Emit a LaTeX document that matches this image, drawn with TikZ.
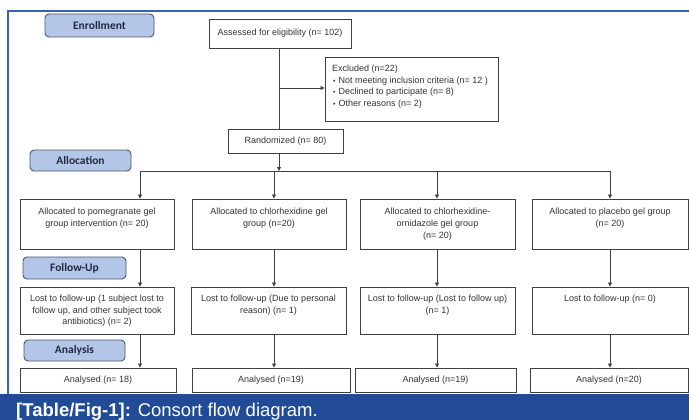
\documentclass[tikz,border=0pt]{standalone}
\usepackage{fontspec}
\setmainfont{Liberation Sans}
\newfontfamily\lblfont{Carlito}
\usetikzlibrary{arrows.meta,fit,calc}
\definecolor{frameblue}{HTML}{3A62B2}
\definecolor{bandblue}{HTML}{224B96}
\definecolor{lblfill}{HTML}{B4C6E7}
\definecolor{lbledge}{HTML}{4A5670}
\definecolor{lbltext}{HTML}{1F2A40}
\definecolor{boxedge}{HTML}{404040}
\definecolor{boxtext}{HTML}{333333}
\tikzset{
  box/.style={draw=boxedge, line width=0.9pt, inner sep=0pt, fill=white},
  lbl/.style={draw=lbledge, line width=0.9pt, fill=lblfill, rounded corners=4pt, inner sep=0pt},
  lbltxt/.style={font=\lblfont\bfseries\fontsize{11.5}{13}\selectfont, text=lbltext, inner sep=0pt},
  txt/.style={font=\fontsize{9}{11.8}\selectfont, text=boxtext, align=center, inner sep=0pt},
  conn/.style={draw=boxedge, line width=0.8pt},
  arr/.style={conn, -{Triangle[length=4pt,width=4pt]}},
}
\newcommand\mkbox[6]{\node[#6, fit={(#2,#3)(#4,#5)}] (#1) {};}
\begin{document}
\begin{tikzpicture}[x=1pt,y=-1pt]
\useasboundingbox (0,0) rectangle (689,420);
\fill[white] (0,0) rectangle (689,420);
% frame
\fill[bandblue] (0,394) rectangle (689,420);
\draw[frameblue, line width=1.2pt] (8,394) -- (8,11) -- (689,11);
\node[anchor=base west, inner sep=0pt, text=white, font=\fontsize{18.5}{20}\selectfont] (cap) at (16,416.5)
  {\textbf{[Table/Fig-1]:} Consort flow diagram.};

% stage labels
\mkbox{enr}{45}{14}{154}{37}{lbl}
\node[lbltxt] (enrt) at (enr.center) {Enrollment};
\mkbox{alc}{30}{150}{131}{171}{lbl}
\node[lbltxt] (alct) at (alc.center) {Allocation};
\mkbox{fol}{23}{257}{126}{279}{lbl}
\node[lbltxt] (folt) at (fol.center) {Follow-Up};
\mkbox{ana}{24}{340}{125}{361}{lbl}
\node[lbltxt] (anat) at (ana.center) {Analysis};

% top boxes
\mkbox{ass}{209}{19}{351}{48}{box}
\node[txt] (asst) at (ass.center) {Assessed for eligibility (n= 102)};
\mkbox{exc}{325}{57}{498}{121}{box}
\node[txt, align=left, anchor=north west] (exct) at (332,64.5) {Excluded (n=22)\\
\hspace{1pt}{\scriptsize\textbullet}\hspace{3pt}Not meeting inclusion criteria (n= 12 )\\
\hspace{1pt}{\scriptsize\textbullet}\hspace{3pt}Declined to participate (n= 8)\\
\hspace{1pt}{\scriptsize\textbullet}\hspace{3pt}Other reasons (n= 2)};
\mkbox{ran}{228}{129}{343}{153}{box}
\node[txt] (rant) at (ran.center) {Randomized (n= 80)};

% allocation row
\mkbox{a1}{20}{199}{174}{249}{box}
\mkbox{a2}{192}{199}{346}{249}{box}
\mkbox{a3}{360}{199}{515}{249}{box}
\mkbox{a4}{532}{199}{688}{249}{box}
\node[txt, anchor=north] (a1t) at ($(a1.north)+(0,9.5)$) {Allocated to pomegranate gel\\group intervention (n= 20)};
\node[txt, anchor=north] (a2t) at ($(a2.north)+(0,9.5)$) {Allocated to chlorhexidine gel\\group (n=20)};
\node[txt, anchor=north] (a3t) at ($(a3.north)+(0,9.5)$) {Allocated to chlorhexidine-\\ornidazole gel group\\(n= 20)};
\node[txt, anchor=north] (a4t) at ($(a4.north)+(0,9.5)$) {Allocated to placebo gel group\\(n= 20)};

% lost row
\mkbox{l1}{20}{287}{174}{334}{box}
\mkbox{l2}{191}{287}{346}{334}{box}
\mkbox{l3}{360}{287}{515}{334}{box}
\mkbox{l4}{532}{287}{688}{334}{box}
\node[txt, anchor=north] (l1t) at ($(l1.north)+(0,8)$) {Lost to follow-up (1 subject lost to\\follow up, and other subject took\\antibiotics) (n= 2)};
\node[txt, anchor=north] (l2t) at ($(l2.north)+(0,8)$) {Lost to follow-up (Due to personal\\reason) (n= 1)};
\node[txt, anchor=north] (l3t) at ($(l3.north)+(0,8)$) {Lost to follow-up (Lost to follow up)\\(n= 1)};
\node[txt, anchor=north] (l4t) at ($(l4.north)+(0,8)$) {Lost to follow-up (n= 0)};

% analysed row
\mkbox{n1}{20}{368}{176}{392}{box}
\mkbox{n2}{192}{368}{350}{392}{box}
\mkbox{n3}{355}{368}{516}{392}{box}
\mkbox{n4}{530}{368}{688}{392}{box}
\node[txt] (n1t) at (n1.center) {Analysed (n= 18)};
\node[txt] (n2t) at (n2.center) {Analysed (n=19)};
\node[txt] (n3t) at (n3.center) {Analysed (n=19)};
\node[txt] (n4t) at (n4.center) {Analysed (n=20)};

% connectors
\coordinate (ex) at (279,88);
\coordinate (sp) at (279,171);
\coordinate (c1) at (140,171);
\coordinate (c2) at (274,171);
\coordinate (c3) at (437,171);
\coordinate (c4) at (610,171);
\draw[conn] (ass.south -| ex) -- (ran.north -| ex);
\draw[arr] (ex) -- (exc.west |- ex);
\draw[arr] (ran.south -| sp) -- (sp);
\draw[conn] (c1) -- (c4);
\foreach \i in {1,2,3,4}{
  \draw[arr] (c\i) -- (c\i |- a\i.north);
  \draw[arr] (c\i |- a\i.south) -- (c\i |- l\i.north);
  \draw[arr] (c\i |- l\i.south) -- (c\i |- n\i.north);
}
\end{tikzpicture}
\end{document}
